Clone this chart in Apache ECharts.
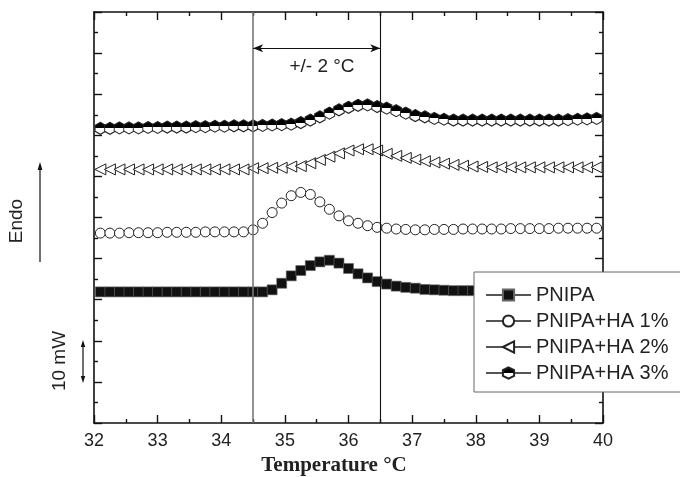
<!DOCTYPE html>
<html>
<head>
<meta charset="utf-8">
<script src="https://cdn.jsdelivr.net/npm/echarts@6/dist/echarts.min.js"></script>
<style>html,body{margin:0;padding:0;background:#fff;}#c{width:680px;height:477px;}</style>
</head>
<body>
<div id="c"></div>
<script>
const temperature = [32.1,32.25,32.4,32.55,32.7,32.85,33.0,33.15,33.3,33.45,33.6,33.75,33.9,34.05,34.2,34.35,34.5,34.65,34.8,34.95,35.1,35.25,35.4,35.55,35.7,35.85,36.0,36.15,36.3,36.45,36.6,36.75,36.9,37.05,37.2,37.35,37.5,37.65,37.8,37.95,38.1,38.25,38.4,38.55,38.7,38.85,39.0,39.15,39.3,39.45,39.6,39.75,39.9];
const pnipa = [31.9,31.9,31.9,31.9,31.9,31.9,31.9,31.9,31.9,31.9,31.9,31.9,31.9,31.9,31.9,31.9,31.9,31.9,
  32.4,34.0,35.8,37.1,38.3,39.2,39.6,38.9,37.6,36.3,35.3,34.4,33.8,33.3,33.0,32.8,32.5,32.4,32.3,
  32.2,32.2,32.2,32.2,32.2,32.2,32.2,32.2,32.2,32.2,32.2,32.2,32.2,32.2,32.2,32.2];
const ha1 = [46.2,46.2,46.2,46.3,46.3,46.3,46.3,46.4,46.4,46.4,46.4,46.5,46.5,46.5,46.5,46.5,
  47.0,48.6,51.2,53.5,55.3,56.1,55.6,53.8,52.0,50.4,49.2,48.6,48.0,47.6,47.4,47.2,47.1,47.0,47.0,
  47.1,47.1,47.1,47.2,47.2,47.2,47.2,47.2,47.3,47.3,47.3,47.3,47.3,47.4,47.4,47.4,47.4,47.4];
const ha2 = [61.7,61.7,61.7,61.7,61.7,61.7,61.7,61.7,61.7,61.7,61.7,61.7,61.7,61.7,61.7,61.7,
  62.0,62.0,62.1,62.1,62.4,62.5,63.2,64.0,64.8,65.6,66.3,66.6,66.6,66.3,65.5,65.0,64.5,64.1,63.7,63.4,63.1,62.8,62.6,62.4,62.3,
  62.2,62.2,62.2,62.2,62.2,62.2,62.2,62.2,62.2,62.2,62.2,62.2];
const ha3 = [71.7,71.7,71.8,71.8,71.8,71.9,71.9,72.0,72.0,72.0,72.1,72.1,72.2,72.2,
  72.3,72.3,72.3,72.4,72.5,72.6,72.7,73.1,73.7,74.5,75.4,76.2,76.8,77.3,77.4,77.0,76.6,76.0,75.4,74.8,74.5,74.1,73.9,
  73.7,73.7,73.7,73.7,73.7,73.7,73.7,73.7,73.7,73.7,73.7,73.7,
  73.8,73.9,74.0,74.1];
const seriesNames = ['PNIPA','PNIPA+HA 1%','PNIPA+HA 2%','PNIPA+HA 3%'];
const xTicks = {min:32, max:40, interval:1};
const yRange = {min:0, max:100, interval:10};
const rangeLines = [34.5, 36.5];
const arrowLevel = 91.2;
const annotationText = '+/- 2 °C';
const xTitle = 'Temperature °C';

const FONT = "'Liberation Sans', Arial, sans-serif";
const pair = arr => temperature.map((t,i)=>[t, arr[i]]);
const halfFill = {type:'linear',x:0,y:0,x2:0,y2:1,colorStops:[
  {offset:0,color:'#000'},{offset:0.5,color:'#000'},{offset:0.5,color:'#fff'},{offset:1,color:'#fff'}]};

const base = {type:'line', xAxisIndex:0, yAxisIndex:0, showSymbol:true, showAllSymbol:true,
  animation:false, emphasis:{disabled:true}, lineStyle:{color:'#555', width:1}, z:3};

const chart = echarts.init(document.getElementById('c'), null, {renderer:'canvas'});
const axisCommon = {
  axisLine:{show:true, onZero:false, lineStyle:{color:'#111', width:1.6}},
  axisTick:{show:true, inside:true, length:8, lineStyle:{color:'#111', width:1.4}},
  minorTick:{show:true, splitNumber:2, length:4, lineStyle:{color:'#111', width:1.4}},
  splitLine:{show:false}
};
chart.setOption({
  backgroundColor:'#fff',
  animation:false,
  grid:{left:94, right:77, top:12, bottom:54, containLabel:false},
  xAxis:[
    Object.assign({type:'value', position:'bottom', min:xTicks.min, max:xTicks.max, interval:xTicks.interval,
      axisLabel:{fontFamily:FONT, fontSize:18, color:'#222', margin:9}}, axisCommon),
    Object.assign({type:'value', position:'top', min:xTicks.min, max:xTicks.max, interval:xTicks.interval,
      axisLabel:{show:false}}, axisCommon)
  ],
  yAxis:[
    Object.assign({type:'value', position:'left', min:yRange.min, max:yRange.max, interval:yRange.interval,
      axisLabel:{show:false}}, axisCommon),
    Object.assign({type:'value', position:'right', min:yRange.min, max:yRange.max, interval:yRange.interval,
      axisLabel:{show:false}}, axisCommon)
  ],
  legend:{
    left:474, top:272, orient:'vertical',
    data:seriesNames,
    itemWidth:45, itemHeight:14, itemGap:6,
    padding:[13,60,9,11],
    backgroundColor:'#fff', borderColor:'#666', borderWidth:1,
    textStyle:{fontFamily:FONT, fontSize:20, color:'#222', lineHeight:20},
    selectedMode:false
  },
  series:[
    Object.assign({}, base, {name:seriesNames[0], data:pair(pnipa), symbol:'rect', symbolSize:10,
      itemStyle:{color:'#111', borderColor:'#666', borderWidth:0.6},
      markLine:{silent:true, symbol:'none', animation:false, label:{show:false},
        data:[
          {xAxis:rangeLines[0], lineStyle:{color:'#777', width:1.6, type:'solid'}},
          {xAxis:rangeLines[1], lineStyle:{color:'#111', width:1.1, type:'solid'}},
          [{coord:[rangeLines[0], arrowLevel], symbol:'arrow', symbolSize:[6,10]},
           {coord:[rangeLines[1], arrowLevel], symbol:'arrow', symbolSize:[6,10], lineStyle:{color:'#111', width:1.1, type:'solid'}}]
        ]}}),
    Object.assign({}, base, {name:seriesNames[1], data:pair(ha1), symbol:'circle', symbolSize:10,
      itemStyle:{color:'#fff', borderColor:'#222', borderWidth:1}}),
    Object.assign({}, base, {name:seriesNames[2], data:pair(ha2), symbol:'path://M0,5L10,0L10,10Z', symbolSize:[11,11],
      itemStyle:{color:'#fff', borderColor:'#222', borderWidth:1}}),
    Object.assign({}, base, {name:seriesNames[3], data:pair(ha3), symbol:'path://M5,0L10,2.9L10,8.7L5,11.6L0,8.7L0,2.9Z', symbolSize:[10.5,12],
      itemStyle:{color:halfFill, borderColor:'#222', borderWidth:1}})
  ],
  graphic:[
    {type:'text', x:322, y:67, z:10, style:{text:annotationText, fontFamily:FONT, fontSize:19, fill:'#222', textAlign:'center', textVerticalAlign:'middle'}},
    {type:'text', x:334, y:466, z:10, style:{text:xTitle, fontFamily:"'Liberation Serif','Times New Roman',serif", fontWeight:'bold', fontSize:21, fill:'#222', textAlign:'center', textVerticalAlign:'middle'}},
    {type:'text', x:17, y:221, rotation:Math.PI/2, z:10, style:{text:'Endo', fontFamily:FONT, fontSize:19, fill:'#222', textAlign:'center', textVerticalAlign:'middle'}},
    {type:'line', z:10, shape:{x1:40, y1:262, x2:40, y2:168}, style:{stroke:'#111', lineWidth:1.2}},
    {type:'polygon', z:10, shape:{points:[[40,162],[37.6,170],[42.4,170]]}, style:{fill:'#111'}},
    {type:'text', x:60, y:361, rotation:Math.PI/2, z:10, style:{text:'10 mW', fontFamily:FONT, fontSize:19, fill:'#222', textAlign:'center', textVerticalAlign:'middle'}},
    {type:'line', z:10, shape:{x1:83, y1:346, x2:83, y2:377}, style:{stroke:'#111', lineWidth:1.2}},
    {type:'polygon', z:10, shape:{points:[[83,340],[80.8,347],[85.2,347]]}, style:{fill:'#111'}},
    {type:'polygon', z:10, shape:{points:[[83,383],[80.8,376],[85.2,376]]}, style:{fill:'#111'}}
  ]
});
</script>
</body>
</html>
